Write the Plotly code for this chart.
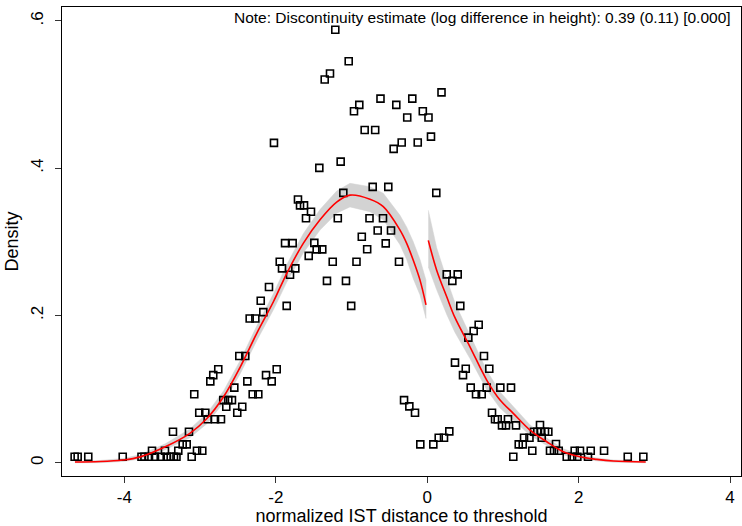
import plotly.graph_objects as go

# Binned density (cell midpoints and heights)
bin_x = [
    -4.657, -4.617, -4.477, -4.022, -3.774, -3.735, -3.675, -3.596, -3.520, -3.441, -3.388, -3.345, -3.312, -3.111,
    -3.635, -3.464, -3.288, -3.041, -2.971,
    -3.230, -3.177,
    -3.358, -3.147,
    -2.900, -2.803, -2.724,
    -3.011, -2.931, -2.509,
    -2.654, -2.443,
    -2.694, -2.627, -2.579,
    -3.077, -2.305, -2.231,
    -2.548,
    -2.865, -2.376, -2.054,
    -2.826, -2.129,
    -2.760, -1.988,
    -2.482, -2.403,
    -2.165, -2.199, -2.345, -2.270, -1.856, -2.090, -1.812, -1.918, -1.742, -1.948,
    -1.878, -1.777, -1.491, -1.460, -1.386, -1.565, -1.248, -0.934, -1.324, -1.073, -1.004,
    -0.3725, -0.864, -0.793, -0.548, -0.654, -0.478, -0.762, -0.584, -1.181, -1.601, -1.535,
    -1.680, -1.627, -1.707, -1.108, -0.720, -0.514, -1.143, -1.425, -2.024,
    0.120, 0.258, 0.403, 0.332, 0.437,
    -1.214, -1.037, -1.284, -1.354, -0.617, -0.197, -0.897, -0.967, -0.408, -0.264, -0.058, 0.017, 0.189,
    -0.826, -0.687, -0.337, -0.443, -0.125, 0.050,
    -0.306, -0.236, -0.161, -0.091, 0.081, 0.152, 0.222, 0.292,
    0.680, 0.614, 0.543, 0.750, 0.367, 0.509, 0.473, 0.820, 0.575, 0.786, 0.645, 0.720, 0.966, 1.107,
    0.856, 0.896, 0.931, 1.067, 0.988, 1.041, 1.173, 1.279, 1.351, 1.209, 1.262, 1.137, 1.388,
    1.411, 1.454, 1.499, 1.556, 1.600, 1.490, 1.513, 1.701, 1.622, 1.675, 1.737,
    1.843, 1.913, 1.983, 2.124, 1.948, 2.018, 2.160, 2.336, 2.649, 2.855,
]
bin_y = [
    0.0081, 0.0081, 0.0081, 0.0081, 0.0081, 0.0081, 0.0081, 0.0081, 0.0081, 0.0081, 0.0081, 0.0081, 0.0081, 0.0081,
    0.0163, 0.0163, 0.0163, 0.0163, 0.0163,
    0.0250, 0.0250,
    0.0420, 0.0420,
    0.0590, 0.0590, 0.0590,
    0.0680, 0.0680, 0.0680,
    0.0760, 0.0760,
    0.0850, 0.0850, 0.0850,
    0.0930, 0.0930, 0.0930,
    0.1020,
    0.1105, 0.1105, 0.1105,
    0.1190, 0.1190,
    0.1270, 0.1270,
    0.1450, 0.1450,
    0.2046, 0.2200, 0.1960, 0.1960, 0.2130, 0.2386, 0.2553, 0.2640, 0.2640, 0.2730,
    0.2983, 0.2983, 0.2987, 0.2898, 0.2898, 0.2810, 0.2730, 0.2730, 0.2470, 0.2470, 0.2130,
    0.2730, 0.3070, 0.2900, 0.2980, 0.3155, 0.3155, 0.3320, 0.3320, 0.3320, 0.3320, 0.3410,
    0.3495, 0.3495, 0.3576, 0.3666, 0.3747, 0.3747, 0.4090, 0.4005, 0.4345,
    0.3666, 0.2558, 0.2558, 0.2470, 0.2130,
    0.5880, 0.5454, 0.5287, 0.5206, 0.4945, 0.4945, 0.4860, 0.4775, 0.4860, 0.4690, 0.4775, 0.4690, 0.5030,
    0.4520, 0.4520, 0.4350, 0.4263, 0.4350, 0.4430,
    0.0850, 0.0766, 0.0680, 0.0250, 0.0250, 0.0340, 0.0340, 0.0426,
    0.1874, 0.1790, 0.1700, 0.1450, 0.1360, 0.1276, 0.1190, 0.1276, 0.1020, 0.1020, 0.0930, 0.0930, 0.1020, 0.1020,
    0.0680, 0.0590, 0.0590, 0.0590, 0.0508, 0.0508, 0.0508, 0.0340, 0.0340, 0.0250, 0.0250, 0.0081, 0.0163,
    0.0420, 0.0420, 0.0420, 0.0420, 0.0420, 0.0512, 0.0340, 0.0254, 0.0163, 0.0163, 0.0163,
    0.0081, 0.0081, 0.0081, 0.0081, 0.0163, 0.0163, 0.0163, 0.0163, 0.0081, 0.0081,
]

# Fitted local-linear density, left of threshold
left_x = [-4.653, -4.32, -4.02, -3.79, -3.46, -3.135, -2.91, -2.69, -2.47, -2.25, -2.03, -1.856, -1.637,
          -1.416, -1.196, -1.02, -0.756, -0.58, -0.359, -0.271, -0.184, -0.095, -0.016]
left_fit = [0.001, 0.0016, 0.0037, 0.008, 0.0217, 0.040, 0.060, 0.0896, 0.130, 0.176, 0.219, 0.257, 0.298,
            0.330, 0.354, 0.3635, 0.358, 0.348, 0.316, 0.298, 0.275, 0.248, 0.2145]
left_lo = [0.000, 0.0001, 0.0017, 0.005, 0.0177, 0.034, 0.053, 0.0816, 0.121, 0.166, 0.208, 0.245, 0.285,
           0.316, 0.339, 0.3475, 0.341, 0.330, 0.296, 0.276, 0.250, 0.228, 0.196]
left_hi = [0.002, 0.0031, 0.0057, 0.011, 0.0257, 0.046, 0.067, 0.0976, 0.139, 0.186, 0.230, 0.269, 0.311,
           0.344, 0.369, 0.3795, 0.375, 0.366, 0.336, 0.320, 0.300, 0.276, 0.248]

# Fitted local-linear density, right of threshold
right_x = [0.0145, 0.125, 0.258, 0.367, 0.565, 0.786, 0.962, 1.137, 1.358, 1.579, 1.798, 2.018, 2.239, 2.458, 2.886]
right_fit = [0.302, 0.2616, 0.2254, 0.197, 0.1575, 0.1123, 0.0852, 0.0671, 0.0444, 0.0285, 0.0149, 0.0081, 0.0046, 0.0023, 0.001]
right_lo = [0.266, 0.235, 0.2014, 0.177, 0.1415, 0.0993, 0.0742, 0.0581, 0.0374, 0.0235, 0.0109, 0.0051, 0.0026, 0.0008, 0.000]
right_hi = [0.343, 0.292, 0.2494, 0.217, 0.1735, 0.1253, 0.0962, 0.0761, 0.0514, 0.0335, 0.0189, 0.0111, 0.0066, 0.0038, 0.002]

x_ticks = [-4, -2, 0, 2, 4]
x_ticklabels = ["-4", "-2", "0", "2", "4"]
y_ticks = [0, 0.2, 0.4, 0.6]
y_ticklabels = ["0", ".2", ".4", ".6"]

note_text = "Note: Discontinuity estimate (log difference in height): 0.39 (0.11) [0.000]"

FONT = "Liberation Sans, Arial, sans-serif"
BAND = "rgb(211,211,211)"

fig = go.Figure()

for xs, lo, hi in [(left_x, left_lo, left_hi), (right_x, right_lo, right_hi)]:
    fig.add_trace(go.Scatter(
        x=list(xs) + list(xs)[::-1], y=list(hi) + list(lo)[::-1],
        fill="toself", fillcolor=BAND, line=dict(color=BAND, width=0.5),
        mode="lines", hoverinfo="skip", showlegend=False))

fig.add_trace(go.Scatter(
    x=bin_x, y=bin_y, mode="markers",
    marker=dict(symbol="square-open", size=7, color="black", line=dict(color="black", width=1.6)),
    showlegend=False))

for xs, ys in [(left_x, left_fit), (right_x, right_fit)]:
    fig.add_trace(go.Scatter(x=xs, y=ys, mode="lines", line=dict(color="red", width=1.6, shape="spline"),
                             showlegend=False))

fig.update_layout(
    width=742, height=526,
    margin=dict(l=62, r=1, t=7, b=50),
    paper_bgcolor="white", plot_bgcolor="white",
    font=dict(family=FONT, size=16, color="black"),
    showlegend=False,
    annotations=[dict(
        text=note_text, xref="paper", yref="paper", x=1, y=1,
        xanchor="right", yanchor="top", xshift=-8, yshift=0,
        showarrow=False, font=dict(family=FONT, size=15.5, color="black"))],
)

fig.update_xaxes(
    range=[-4.824, 4.145], tickmode="array", tickvals=x_ticks, ticktext=x_ticklabels,
    ticks="outside", ticklen=6, tickwidth=1, tickcolor="#333",
    showline=True, linecolor="black", linewidth=1, mirror=True,
    showgrid=False, zeroline=False,
    tickfont=dict(size=17), title=dict(text="normalized IST distance to threshold", font=dict(size=18), standoff=4),
)
fig.update_yaxes(
    range=[-0.018, 0.619], tickmode="array", tickvals=y_ticks, ticktext=y_ticklabels,
    ticks="outside", ticklen=6, tickwidth=1, tickcolor="#333", tickangle=-90, ticklabelstandoff=5,
    showline=True, linecolor="black", linewidth=1, mirror=True,
    showgrid=False, zeroline=False,
    tickfont=dict(size=17), title=dict(text="Density", font=dict(size=18), standoff=4),
)

fig.write_html("out.html")
